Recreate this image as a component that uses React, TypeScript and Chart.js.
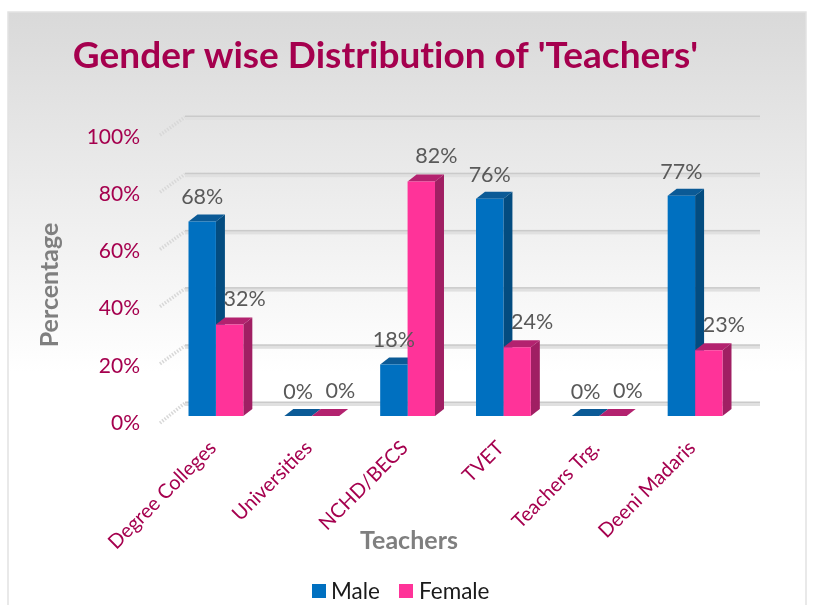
import React, { useEffect, useRef } from "react";
import { Chart, registerables } from "chart.js";

Chart.register(...registerables);

const chartTitle = "Gender wise Distribution of 'Teachers'";
const xAxisTitle = "Teachers";
const yAxisTitle = "Percentage";
const categories = ["Degree Colleges", "Universities", "NCHD/BECS", "TVET", "Teachers Trg.", "Deeni Madaris"];
const maleValues = [68, 0, 18, 76, 0, 77];
const femaleValues = [32, 0, 82, 24, 0, 23];
const yTicks = [0, 20, 40, 60, 80, 100];

const FONT = "Lato, Carlito, sans-serif";
const CRIMSON = "#A5004E";
const DX = 9;
const DY = 7;
const faces = [
  { side: "#034C80", top: "#0B5A96" },
  { side: "#A01F63", top: "#B3226F" },
];
const labelOffsets = [
  { x: 0, y: -24 },
  { x: 15, y: -25 },
];

function poly(ctx: CanvasRenderingContext2D, pts: number[][], fill: string) {
  ctx.fillStyle = fill;
  ctx.beginPath();
  pts.forEach(([x, y], i) => (i ? ctx.lineTo(x, y) : ctx.moveTo(x, y)));
  ctx.closePath();
  ctx.fill();
}

const depthPlugin = {
  id: "depth",
  beforeDraw(chart: any) {
    const { ctx, width, height } = chart;
    ctx.save();
    ctx.fillStyle = "#ffffff";
    ctx.fillRect(0, 0, width, height);
    const g = ctx.createLinearGradient(0, 12, 0, 372);
    g.addColorStop(0, "#d9d9d9");
    g.addColorStop(1, "#ffffff");
    ctx.fillStyle = g;
    ctx.fillRect(8, 12, 798, height - 12);
    ctx.strokeStyle = "#e2e2e2";
    ctx.lineWidth = 1.5;
    ctx.beginPath();
    ctx.moveTo(8, height);
    ctx.lineTo(8, 12);
    ctx.lineTo(806, 12);
    ctx.lineTo(806, height);
    ctx.stroke();
    ctx.restore();
  },
  beforeDatasetsDraw(chart: any) {
    const { ctx, scales } = chart;
    const yS = scales.y;
    ctx.save();
    yTicks.forEach((t) => {
      const py = yS.getPixelForValue(t);
      const back = py - 13;
      // side wall tick
      ctx.strokeStyle = "#d8d8d8";
      ctx.lineWidth = 3.5;
      ctx.setLineDash([1.5, 1.5]);
      ctx.beginPath();
      ctx.moveTo(160, py + (t === 0 ? 7 : 5));
      ctx.lineTo(185, back);
      ctx.stroke();
      ctx.setLineDash([]);
      // back wall
      ctx.fillStyle = "#e0e0e0";
      ctx.fillRect(185, back - 1, 575, 4);
      ctx.fillStyle = "#cacaca";
      ctx.fillRect(185, back - 1.5, 575, 1.5);
    });
    [0, 1].forEach((di) => {
      chart.getDatasetMeta(di).data.forEach((bar: any) => {
        const p = bar.getProps(["x", "y", "base", "width"], true);
        const l = p.x - p.width / 2;
        const r = p.x + p.width / 2;
        poly(ctx, [[r, p.y], [r + DX, p.y - DY], [r + DX, p.base - DY], [r, p.base]], faces[di].side);
        poly(ctx, [[l, p.y], [l + DX, p.y - DY], [r + DX, p.y - DY], [r, p.y]], faces[di].top);
      });
    });
    ctx.restore();
  },
  afterDatasetsDraw(chart: any) {
    const { ctx } = chart;
    ctx.save();
    ctx.textAlign = "center";
    ctx.textBaseline = "middle";
    // data labels
    ctx.font = `21.5px ${FONT}`;
    ctx.fillStyle = "#595959";
    [0, 1].forEach((di) => {
      const values = chart.data.datasets[di].data;
      chart.getDatasetMeta(di).data.forEach((bar: any, i: number) => {
        const p = bar.getProps(["x", "y"], true);
        ctx.fillText(`${values[i]}%`, p.x + labelOffsets[di].x, p.y + labelOffsets[di].y);
      });
    });
    // chart title (letter spacing turns the "ti" ligature off)
    ctx.font = `bold 37px ${FONT}`;
    (ctx as any).letterSpacing = "0.01px";
    ctx.fillStyle = CRIMSON;
    ctx.fillText(chartTitle, 385.5, 56);
    (ctx as any).letterSpacing = "0px";
    // axis titles
    ctx.font = `bold 25px ${FONT}`;
    ctx.fillStyle = "#7F7F7F";
    ctx.fillText(xAxisTitle, 409, 541);
    ctx.save();
    ctx.translate(50, 285);
    ctx.rotate(-Math.PI / 2);
    ctx.fillText(yAxisTitle, 0, 0);
    ctx.restore();
    // legend
    ctx.textAlign = "left";
    ctx.font = `22.5px ${FONT}`;
    const items = [
      { box: 312, text: 331 },
      { box: 399, text: 419 },
    ];
    chart.data.datasets.forEach((ds: any, i: number) => {
      ctx.fillStyle = ds.backgroundColor;
      ctx.fillRect(items[i].box, 584, 14, 14);
      ctx.fillStyle = "#1a1a1a";
      ctx.fillText(ds.label, items[i].text, 591.5);
    });
    ctx.restore();
  },
};

export default function App() {
  const ref = useRef<HTMLCanvasElement>(null);
  useEffect(() => {
    const chart = new Chart(ref.current as HTMLCanvasElement, {
      type: "bar",
      data: {
        labels: categories,
        datasets: [
          { label: "Male", data: maleValues, backgroundColor: "#0070C0" },
          { label: "Female", data: femaleValues, backgroundColor: "#FF3399" },
        ],
      },
      plugins: [depthPlugin],
      options: {
        responsive: false,
        animation: false,
        layout: { padding: { top: 130, right: 70, left: 0, bottom: 0 } },
        datasets: { bar: { barPercentage: 1, categoryPercentage: 0.572 } },
        plugins: { legend: { display: false }, title: { display: false }, tooltip: { enabled: false } },
        scales: {
          x: {
            grid: { display: false, drawTicks: false },
            border: { display: false },
            afterFit(scale: any) {
              scale.height = 189;
            },
            ticks: {
              autoSkip: false,
              minRotation: 45,
              maxRotation: 45,
              padding: 20,
              labelOffset: -3,
              color: CRIMSON,
              font: { family: FONT, size: 20 },
            },
          },
          y: {
            min: 0,
            max: 100,
            grid: { display: false, drawTicks: false },
            border: { display: false },
            afterFit(scale: any) {
              scale.width = 168;
            },
            ticks: {
              stepSize: 20,
              padding: 28,
              labelOffset: 7,
              color: CRIMSON,
              font: { family: FONT, size: 21 },
              callback: (v: any) => `${v}%`,
            },
          },
        },
      } as any,
    });
    return () => chart.destroy();
  }, []);
  return (
    <div style={{ position: "fixed", left: 0, top: 0, width: 813, height: 605, background: "#fff" }}>
      <canvas ref={ref} width={813} height={605} style={{ display: "block" }} />
    </div>
  );
}
